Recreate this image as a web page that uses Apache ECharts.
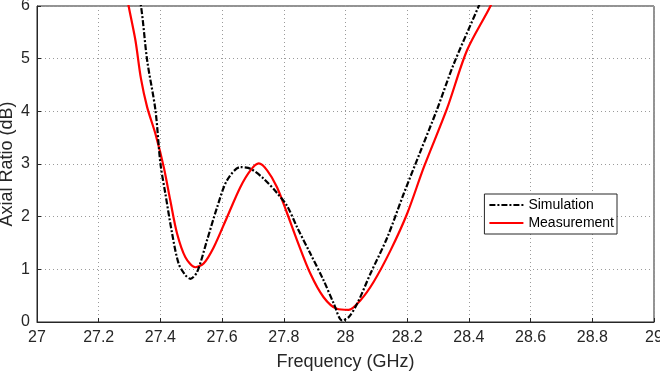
<!DOCTYPE html>
<html>
<head>
<meta charset="utf-8">
<script src="https://cdn.jsdelivr.net/npm/echarts@6/dist/echarts.min.js"></script>
<style>
  html, body { margin: 0; padding: 0; background: #fff; }
  #container { width: 660px; height: 372px; }
</style>
</head>
<body>
<div id="container"></div>
<script>
// simulation curve (GHz, dB)
var simFreq = [27.32, 27.337, 27.357, 27.384, 27.4, 27.416, 27.438, 27.459, 27.481, 27.497, 27.519, 27.551, 27.584, 27.616, 27.659, 27.692, 27.735, 27.778, 27.811, 27.843, 27.886, 27.929, 27.962, 27.989, 28.01, 28.038, 28.081, 28.135, 28.189, 28.243, 28.297, 28.351, 28.432, 28.45];
var simAR   = [6.4, 6.0, 4.97, 4.02, 3.01, 2.44, 1.68, 1.11, 0.89, 0.82, 0.95, 1.55, 2.18, 2.69, 2.94, 2.91, 2.72, 2.45, 2.2, 1.8, 1.3, 0.79, 0.35, 0.03, 0.09, 0.35, 0.92, 1.6, 2.44, 3.24, 4.04, 4.9, 6.0, 6.25];

// measurement curve
var meaFreq = [27.285, 27.297, 27.319, 27.337, 27.357, 27.384, 27.411, 27.432, 27.454, 27.481, 27.513, 27.54, 27.573, 27.616, 27.659, 27.692, 27.719, 27.746, 27.778, 27.811, 27.843, 27.886, 27.929, 27.972, 28.01, 28.048, 28.091, 28.146, 28.2, 28.254, 28.329, 28.394, 28.47, 28.49];
var meaAR   = [6.4, 6.0, 5.35, 4.62, 4.08, 3.57, 2.94, 2.31, 1.68, 1.23, 1.04, 1.11, 1.42, 1.99, 2.56, 2.88, 3.01, 2.88, 2.56, 2.06, 1.55, 0.92, 0.47, 0.25, 0.23, 0.41, 0.76, 1.36, 2.06, 2.94, 4.05, 5.16, 6.0, 6.3];

var xTicks = [27, 27.2, 27.4, 27.6, 27.8, 28, 28.2, 28.4, 28.6, 28.8, 29];
var yTicks = [0, 1, 2, 3, 4, 5, 6];

function pairs(xs, ys) {
    var out = [];
    for (var i = 0; i < xs.length; i++) out.push([xs[i], ys[i]]);
    return out;
}

var myChart = echarts.init(document.getElementById('container'));
var font = 'Liberation Sans, Arial, sans-serif';
var option = {
    animation: false,
    textStyle: { fontFamily: font },
    grid: {
        left: 37, right: 6, top: 6, bottom: 50,
        outerBoundsMode: 'none', containLabel: false,
        show: true, borderColor: '#262626', borderWidth: 1
    },
    legend: {
        right: 43, top: 194,
        orient: 'vertical',
        backgroundColor: '#fff',
        borderColor: '#262626', borderWidth: 1, borderRadius: 0,
        padding: [4, 3, 4, 4],
        itemGap: 4,
        itemWidth: 34, itemHeight: 14,
        itemStyle: { opacity: 0 },
        textStyle: { fontSize: 14, color: '#000', fontFamily: font },
        data: ['Simulation', 'Measurement']
    },
    xAxis: {
        type: 'value', min: 27, max: 29, interval: 0.2,
        name: 'Frequency (GHz)', nameLocation: 'middle', nameGap: 31,
        nameMoveOverlap: false,
        nameTextStyle: { fontSize: 18, color: '#262626' },
        axisLine: { lineStyle: { color: '#262626' } },
        axisTick: { inside: true, length: 4, lineStyle: { color: '#262626' } },
        axisLabel: {
            fontSize: 16, color: '#262626', margin: 8,
            formatter: function (v) { return String(Math.round(v * 10) / 10); }
        },
        splitLine: { show: true, lineStyle: { type: [1, 3], color: '#9a9a9a', width: 1 } }
    },
    yAxis: {
        type: 'value', min: 0, max: 6, interval: 1,
        name: 'Axial Ratio (dB)', nameLocation: 'middle', nameGap: 21,
        nameMoveOverlap: false,
        nameTextStyle: { fontSize: 18, color: '#262626' },
        axisLine: { show: true, lineStyle: { color: '#262626' } },
        axisTick: { show: true, inside: true, length: 4, lineStyle: { color: '#262626' } },
        axisLabel: { fontSize: 16, color: '#262626', margin: 7 },
        splitLine: { show: true, lineStyle: { type: [1, 3], color: '#9a9a9a', width: 1 } }
    },
    series: [
        {
            name: 'Simulation', type: 'line', smooth: 0.3,
            symbol: 'none',
            data: pairs(simFreq, simAR), clip: true, z: 3,
            color: '#000',
            lineStyle: { color: '#000', width: 2.2, type: [6, 2, 2, 2] }
        },
        {
            name: 'Measurement', type: 'line', smooth: 0.3,
            symbol: 'none',
            data: pairs(meaFreq, meaAR), clip: true, z: 2,
            color: '#ff0000',
            lineStyle: { color: '#ff0000', width: 2.2 }
        }
    ]
};
myChart.setOption(option, true);
</script>
</body>
</html>
